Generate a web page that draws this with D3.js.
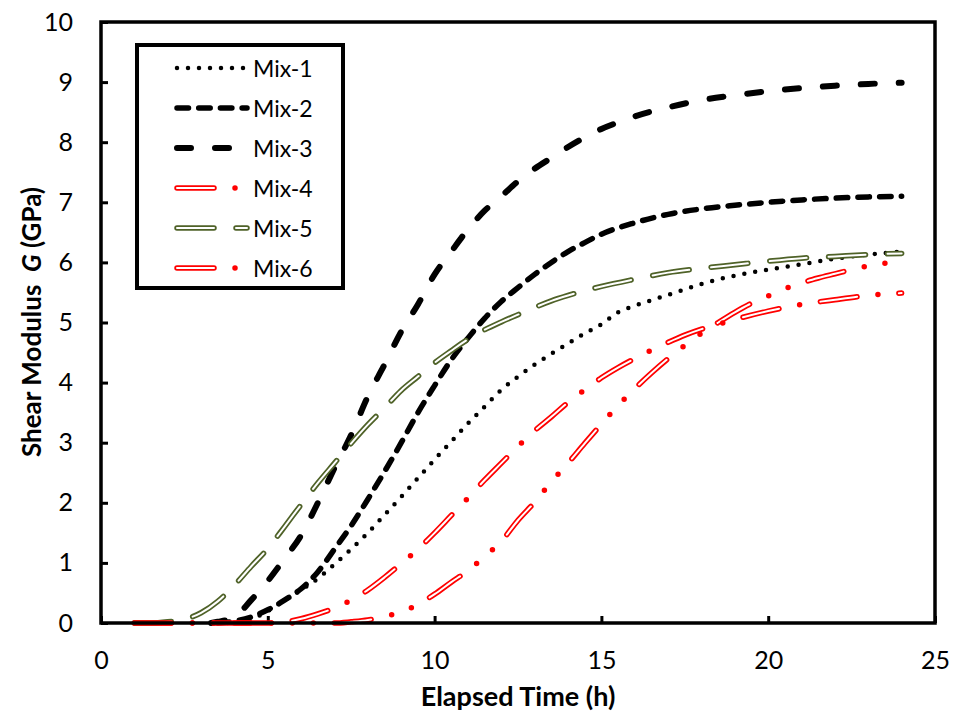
<!DOCTYPE html>
<html lang="en">
  <head>
    <meta charset="utf-8" />
    <title>Shear Modulus</title>
    <script src="https://d3js.org/d3.v7.min.js"></script>
    <style>
      body { margin: 0; background: #fff; }
      text { font-family: Lato, "Open Sans", sans-serif; fill: #000; }
    </style>
  </head>
  <body>
    <script>
      // data: elapsed time (h) and G (GPa)
      var mix1T = [3.8, 4, 4.5, 5, 5.5, 6, 6.5, 7, 7.5, 8, 8.5, 9, 9.5, 10, 10.5, 11, 11.5, 12, 12.5, 13, 13.5, 14, 14.5, 15, 15.5, 16, 16.5, 17, 17.5, 18, 19, 20, 21, 22, 23, 24];
      var mix1G = [0, 0.01, 0.06, 0.2, 0.38, 0.55, 0.74, 0.98, 1.23, 1.5, 1.8, 2.1, 2.41, 2.72, 3.02, 3.32, 3.6, 3.88, 4.1, 4.3, 4.48, 4.65, 4.82, 4.97, 5.17, 5.28, 5.37, 5.46, 5.55, 5.64, 5.78, 5.88, 5.97, 6.06, 6.13, 6.18];

      var mix2T = [3.5, 4, 4.5, 5, 5.5, 6, 6.5, 7, 7.5, 8, 8.5, 9, 9.5, 10, 10.5, 11, 11.5, 12, 12.5, 13, 13.5, 14, 14.5, 15, 16, 17, 18, 19, 20, 21, 22, 23, 24];
      var mix2G = [0, 0.03, 0.1, 0.22, 0.38, 0.57, 0.85, 1.23, 1.62, 2.06, 2.52, 3.0, 3.5, 3.95, 4.38, 4.74, 5.07, 5.35, 5.58, 5.8, 6.0, 6.18, 6.33, 6.47, 6.66, 6.8, 6.89, 6.95, 7.0, 7.04, 7.07, 7.09, 7.1];

      var mix3T = [3.3, 3.5, 4, 4.5, 5, 5.5, 6, 6.5, 7, 7.5, 8, 8.5, 9, 9.5, 10, 10.5, 11, 11.5, 12, 12.5, 13, 13.5, 14, 14.5, 15, 15.5, 16, 17, 18, 19, 20, 21, 22, 23, 24];
      var mix3G = [0, 0.02, 0.1, 0.38, 0.7, 1.07, 1.46, 2.0, 2.58, 3.13, 3.77, 4.3, 4.85, 5.3, 5.8, 6.18, 6.55, 6.86, 7.1, 7.35, 7.56, 7.74, 7.92, 8.08, 8.22, 8.33, 8.43, 8.58, 8.7, 8.78, 8.85, 8.9, 8.94, 8.97, 8.99];

      var mix4T = [1, 7, 7.5, 8, 8.5, 9, 9.5, 10, 10.5, 11, 11.5, 12, 12.5, 13, 13.5, 14, 14.5, 15, 15.5, 16, 16.5, 17, 17.5, 18, 18.5, 19, 19.5, 20, 20.5, 21, 21.5, 22, 22.5, 23, 24];
      var mix4G = [0, 0, 0.02, 0.05, 0.11, 0.18, 0.31, 0.48, 0.68, 0.87, 1.11, 1.36, 1.71, 2.01, 2.35, 2.66, 2.99, 3.31, 3.62, 3.9, 4.16, 4.4, 4.62, 4.82, 5.0, 5.17, 5.32, 5.44, 5.56, 5.66, 5.74, 5.81, 5.88, 5.94, 6.02];

      var mix5T = [1, 1.5, 2, 2.5, 3, 3.5, 4, 4.5, 5, 5.5, 6, 6.5, 7, 7.5, 8, 8.5, 9, 9.5, 10, 10.5, 11, 11.5, 12, 12.5, 13, 13.5, 14, 14.5, 15, 16, 17, 18, 19, 20, 21, 22, 23, 24];
      var mix5G = [0, 0, 0.02, 0.06, 0.17, 0.36, 0.63, 0.94, 1.24, 1.6, 1.97, 2.33, 2.66, 2.99, 3.3, 3.58, 3.87, 4.1, 4.33, 4.53, 4.72, 4.88, 5.01, 5.13, 5.25, 5.36, 5.45, 5.53, 5.6, 5.72, 5.83, 5.9, 5.96, 6.02, 6.07, 6.1, 6.13, 6.15];

      var mix6T = [1, 5, 5.5, 6, 6.5, 7, 7.5, 8, 8.5, 9, 9.5, 10, 10.5, 11, 11.5, 12, 12.5, 13, 13.5, 14, 14.5, 15, 15.5, 16, 16.5, 17, 17.5, 18, 18.5, 19, 20, 21, 22, 23, 24];
      var mix6G = [0, 0, 0.02, 0.07, 0.15, 0.25, 0.38, 0.55, 0.76, 0.99, 1.23, 1.5, 1.79, 2.08, 2.38, 2.66, 2.94, 3.2, 3.43, 3.67, 3.88, 4.08, 4.25, 4.4, 4.54, 4.67, 4.79, 4.89, 4.97, 5.05, 5.19, 5.3, 5.38, 5.45, 5.49];

      var mixNames = ["Mix-1", "Mix-2", "Mix-3", "Mix-4", "Mix-5", "Mix-6"];
      var xTicks = [0, 5, 10, 15, 20, 25];
      var yTicks = [0, 1, 2, 3, 4, 5, 6, 7, 8, 9, 10];

      // line look per series (double = outlined dash like the excel compound line)
      var styles = [
        { color: "#000", width: 4.5, dash: "0 11" },
        { color: "#000", width: 5.5, dash: "11.5 10.2" },
        { color: "#000", width: 6, dash: "14 24" },
        { color: "#ff0000", width: 5.5, dash: "37 21 0 21 0 21", inner: "37 63", double: true },
        { color: "#4f6228", width: 5.5, dash: "37 22", inner: "37 22", double: true },
        { color: "#ff0000", width: 5.5, dash: "37 21 0 21", inner: "37 42", double: true },
      ];

      var series = [
        d3.zip(mix1T, mix1G),
        d3.zip(mix2T, mix2G),
        d3.zip(mix3T, mix3G),
        d3.zip(mix4T, mix4G),
        d3.zip(mix5T, mix5G),
        d3.zip(mix6T, mix6G),
      ];

      var svgW = 956, svgH = 719;
      var plotL = 101, plotR = 935, plotT = 22, plotB = 623;

      var svg = d3
        .select("body")
        .append("svg")
        .attr("width", svgW)
        .attr("height", svgH);

      var x = d3.scaleLinear().domain([0, 25]).range([plotL, plotR]);
      var y = d3.scaleLinear().domain([0, 10]).range([plotB, plotT]);

      // axes with ticks pointing inward
      var xAxis = svg
        .append("g")
        .attr("transform", "translate(0," + plotB + ")")
        .call(d3.axisBottom(x).tickValues(xTicks).tickSize(-7).tickPadding(28));
      var yAxis = svg
        .append("g")
        .attr("transform", "translate(" + plotL + ",0)")
        .call(d3.axisLeft(y).tickValues(yTicks).tickSize(-7).tickPadding(28));

      [xAxis, yAxis].forEach(function (g) {
        g.select(".domain").remove();
        g.selectAll(".tick line").attr("stroke", "#000").attr("stroke-width", 3);
        g.selectAll(".tick text").style("font-size", "25px");
      });

      function drawLine(g, pts, s, gen) {
        g.append("path")
          .datum(pts)
          .attr("d", gen)
          .attr("fill", "none")
          .attr("stroke", s.color)
          .attr("stroke-width", s.width)
          .attr("stroke-linecap", "round")
          .attr("stroke-linejoin", "round")
          .attr("stroke-dasharray", s.dash);
        if (s.double) {
          g.append("path")
            .datum(pts)
            .attr("d", gen)
            .attr("fill", "none")
            .attr("stroke", "#fff")
            .attr("stroke-width", 2)
            .attr("stroke-linecap", "round")
            .attr("stroke-linejoin", "round")
            .attr("stroke-dasharray", s.inner);
        }
      }

      var line = d3
        .line()
        .x(function (d) { return x(d[0]); })
        .y(function (d) { return y(d[1]); })
        .curve(d3.curveMonotoneX);

      var plot = svg.append("g");
      series.forEach(function (pts, i) {
        drawLine(plot, pts, styles[i], line);
      });

      // frame
      svg
        .append("rect")
        .attr("x", plotL)
        .attr("y", plotT)
        .attr("width", plotR - plotL)
        .attr("height", plotB - plotT)
        .attr("fill", "none")
        .attr("stroke", "#000")
        .attr("stroke-width", 3.5);

      // legend
      var legend = svg.append("g");
      legend
        .append("rect")
        .attr("x", 137)
        .attr("y", 45)
        .attr("width", 206)
        .attr("height", 243)
        .attr("fill", "#fff")
        .attr("stroke", "#000")
        .attr("stroke-width", 4);

      var plain = d3.line();
      mixNames.forEach(function (name, i) {
        var ly = 68 + i * 40;
        drawLine(legend, [[177, ly], [247, ly]], styles[i], plain);
        legend
          .append("text")
          .attr("x", 253)
          .attr("y", ly + 9)
          .style("font-size", "23px")
          .text(name);
      });

      // axis titles
      svg
        .append("text")
        .attr("x", 518)
        .attr("y", 706)
        .attr("text-anchor", "middle")
        .style("font-size", "27px")
        .style("font-weight", "bold")
        .text("Elapsed Time (h)");

      var yt = svg
        .append("text")
        .attr("transform", "translate(41,322) rotate(-90)")
        .attr("text-anchor", "middle")
        .style("font-size", "26px")
        .style("font-weight", "bold");
      yt.append("tspan").text("Shear Modulus\u00a0\u00a0");
      yt.append("tspan").style("font-style", "italic").text("G");
      yt.append("tspan").text(" (GPa)");
    </script>
  </body>
</html>
